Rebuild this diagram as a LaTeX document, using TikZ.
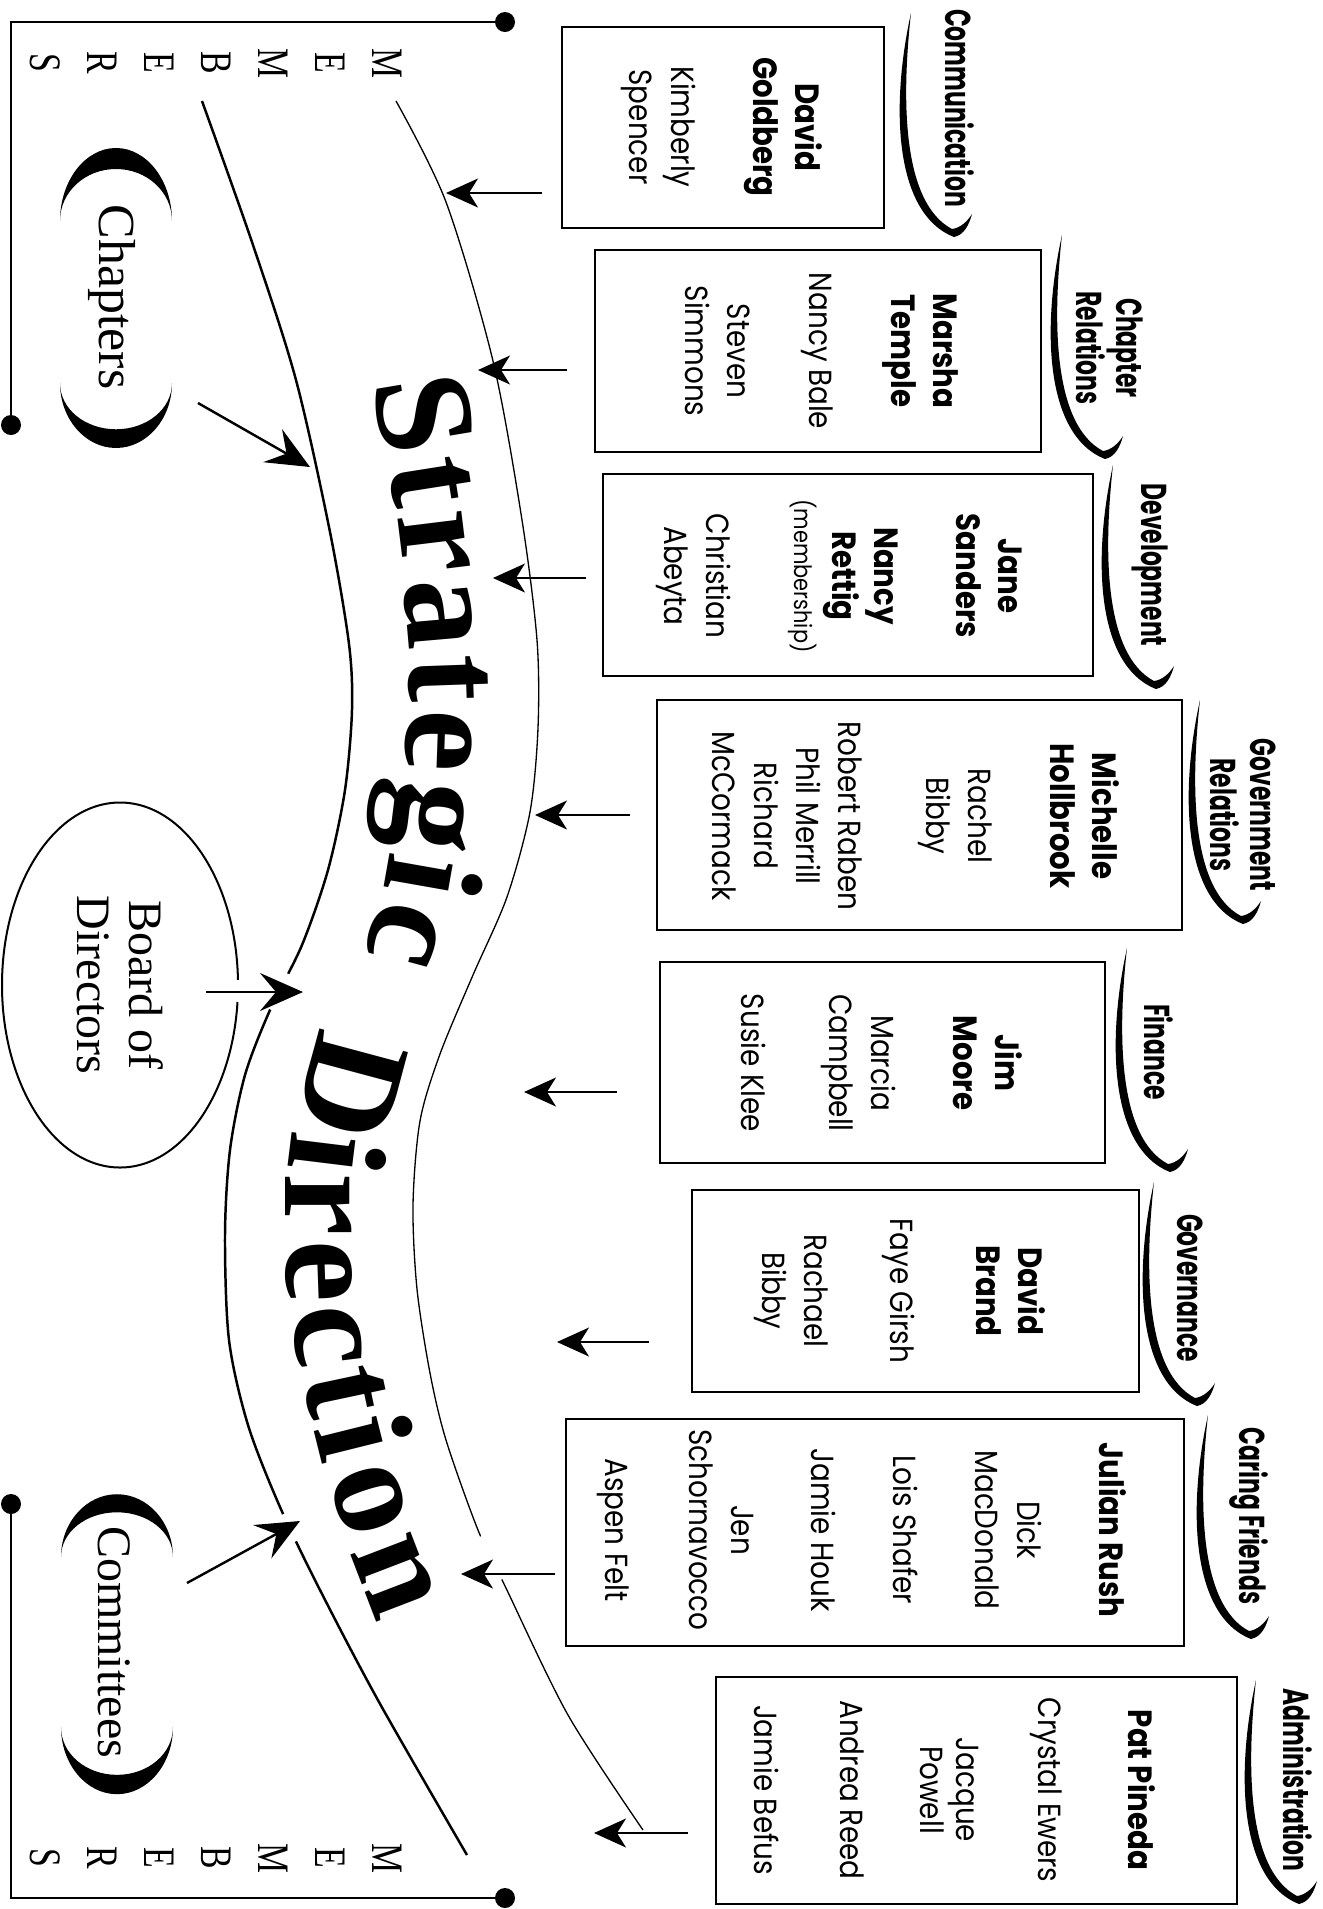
\documentclass[tikz,border=0pt]{standalone}
\usepackage{fontspec}
\setmainfont{Liberation Serif}
\newfontfamily\namefont{Poppins}[FakeStretch=0.87]
\newfontfamily\cmtefont{Poppins}[FakeStretch=0.65]
\newfontfamily\condserif{Liberation Serif}[FakeStretch=0.75]
\usetikzlibrary{arrows.meta,shapes.geometric}

\newcommand{\lead}[1]{{\bfseries\fontsize{8.4}{10.5}\selectfont #1}}
\newcommand{\swoosh}[1]{\fill[shift={#1}] (0,0) .. controls (-20,90) and (-18,200) .. (43,224)
  .. controls (53,222) and (58,212) .. (61,201) .. controls (56,209) and (49,215) .. (41,216)
  .. controls (-8,190) and (-10,90) .. (0,0) -- cycle;}
\newcommand{\crescent}[2]{\fill[shift={#1}, yscale=#2] (-56,0) .. controls (-56,-40) and (-31,-73) .. (0,-73)
  .. controls (31,-73) and (56,-40) .. (56,0) .. controls (56,-29) and (31,-52) .. (0,-52)
  .. controls (-31,-52) and (-56,-29) .. (-56,0) -- cycle;}

\begin{document}
\begin{tikzpicture}[x=0.25pt,y=-0.25pt,
  box/.style={draw, line width=0.6pt, inner sep=0pt},
  names/.style={rotate=-90, align=center, inner sep=0pt, font=\namefont\fontsize{8}{10.5}\selectfont},
  cmte/.style={rotate=-90, align=center, inner sep=0pt, font=\cmtefont\bfseries\fontsize{9}{10}\selectfont},
  member/.style={rotate=-90, inner sep=0pt, font=\condserif\fontsize{11.25}{11.25}\selectfont},
  grouptext/.style={rotate=-90, align=center, inner sep=0pt, font=\fontsize{12}{13}\selectfont},
  bigword/.style={anchor=base, inner sep=0pt, text height=20pt, text depth=0pt,
    font=\bfseries\fontsize{35}{35}\selectfont},
  arr/.style={line width=0.375pt, -{Stealth[length=8pt,width=7.25pt,inset=2.25pt]}},
  bigarr/.style={line width=0.6pt, -{Stealth[length=10.75pt,width=9.5pt,inset=4pt]}}]

\useasboundingbox (0,0) rectangle (1323,1909);

% members brackets
\draw[line width=0.6pt] (505,22) -- (11,22) -- (11,425);
\draw[line width=0.6pt] (11,1504) -- (11,1898) -- (505,1898);
\foreach \p in {(505,22),(11,425),(11,1504),(505,1898)} \fill \p circle[radius=10];
\foreach \ch [count=\i] in {M,E,M,B,E,R,S} {
  \node[member] (mtop\i) at (444-57*\i,63) {\ch};
  \node[member] (mbot\i) at (444-57*\i,1858) {\ch};
}

% the two bands
\draw[line width=0.62pt] plot[smooth] coordinates {(202,101) (253,245) (296,380) (330,532) (349,644)
  (352,710) (345,790) (328,870) (302,945) (270,1010) (245,1075) (230,1150) (225,1235) (229,1340)
  (248,1425) (280,1507) (320,1590) (379,1702) (467,1855)};
\draw[line width=0.33pt] plot[smooth] coordinates {(396,101) (446,202) (493,361) (522,520) (537,640)
  (538,728) (530,812) (507,897) (473,975) (440,1054) (420,1121) (413,1205) (417,1289) (430,1373)
  (446,1440) (478,1530) (505,1586) (568,1715) (643,1830)};

% strategic direction, letter by letter along the band
\foreach \ch/\xx/\yy/\aa [count=\i] in {S/379/421/-80.5, t/392/488/-81, r/401/546/-83,
    a/407/616/-85, t/409/680/-88, e/406/740/-92, g/398/812/-97, i/387/870/-100, c/372/925/-105}
  \node[bigword, rotate=\aa] (strat\i) at (\xx,\yy) {\ch};
\foreach \ch/\xx/\yy/\aa [count=\i] in {D/307/1075/-105, i/290/1149/-97, r/285/1205/-90,
    e/287/1273/-88, c/295/1340/-83, t/307/1399/-78, i/318/1447/-76, o/338/1510/-72, n/363/1588/-69}
  \node[bigword, rotate=\aa] (dir\i) at (\xx,\yy) {\ch};

% left side groups
\node[grouptext, font=\fontsize{13}{14}\selectfont] (chapters) at (112,297) {Chapters};
\crescent{(116,221)}{1}
\crescent{(116,383)}{-0.89}
\node[grouptext] (committees) at (114,1642) {Committees};
\crescent{(117,1557)}{0.86}
\crescent{(117,1727)}{-0.92}
\node[grouptext, draw, ellipse, line width=0.5pt, minimum width=91.25pt, minimum height=59pt]
  (board) at (120,985) {Board of\\Directors};

% gaps where arrows cross
\fill[white] (280,992) circle[radius=20];
\fill[white] (238,991) circle[radius=11];
\fill[white] (289,1528) circle[radius=15];
\fill[white] (491,1558) circle[radius=24];

\coordinate (chaptip) at (310,467);
\coordinate (boardtip) at (303,992);
\coordinate (cmtstip) at (300,1521);
\draw[bigarr] ([shift={(86,106)}]chapters.center) -- (chaptip);
\draw[bigarr] ([shift={(86,7)}]board.center) -- (boardtip);
\draw[bigarr] ([shift={(73,-59)}]committees.center) -- (cmtstip);

% committee boxes
\foreach \nm/\cx/\cy/\w/\h in {comm/723/127.5/322/201, chaprel/818/351/446/202,
    devel/848/575/490/202, govrel/919.5/815/525/230, fin/882.5/1062.5/445/201,
    gov/915.5/1291/447/202, caring/875/1532.5/618/227, admin/976.5/1790.5/521/227}
  \node[box, minimum width=\w*0.25pt, minimum height=\h*0.25pt] (\nm) at (\cx,\cy) {};

\node[names] (commnames) at (722,127) {\lead{David}\\\lead{Goldberg}\\[10pt]Kimberly\\Spencer};
\node[names] (chaprelnames) at (822,351) {\lead{Marsha}\\\lead{Temple}\\[10pt]Nancy Bale\\[10pt]Steven\\Simmons};
\node[names] (develnames) at (839,576) {\lead{Jane}\\\lead{Sanders}\\[10pt]\lead{Nancy}\\\lead{Rettig}\\[-1pt]{\fontsize{6}{7}\selectfont(membership)}\\[11.5pt]Christian\\Abeyta};
\node[names] (govrelnames) at (916,816) {\lead{Michelle}\\\lead{Hollbrook}\\[10pt]Rachel\\Bibby\\[11.5pt]Robert Raben\\Phil Merrill\\Richard\\McCormack};
\node[names] (finnames) at (882,1063) {\lead{Jim}\\\lead{Moore}\\[10pt]Marcia\\Campbell\\[11.5pt]Susie Klee};
\node[names] (govnames) at (900,1291) {\lead{David}\\\lead{Brand}\\[11pt]Faye Girsh\\[11pt]Rachael\\Bibby};
\node[names] (caringnames) at (862,1530) {\lead{Julian Rush}\\[10pt]Dick\\MacDonald\\[10pt]Lois Shafer\\[10pt]Jamie Houk\\[9.5pt]Jen\\Schornavocco\\[10.5pt]Aspen Felt};
\node[names] (adminnames) at (955,1790) {\lead{Pat Pineda}\\[12pt]Crystal Ewers\\[10pt]Jacque\\[-1.5pt]Powell\\[9.5pt]Andrea Reed\\[11pt]Jamie Befus};

% committee titles
\node[cmte] (commlabel) at (960,108) {Communication};
\node[cmte] (chaprellabel) at (1110,348) {Chapter\\Relations};
\node[cmte] (devellabel) at (1150,565) {Development};
\node[cmte] (govrellabel) at (1243,815) {Government\\Relations};
\node[cmte] (finlabel) at (1159,1052) {Finance};
\node[cmte] (govlabel) at (1190,1288) {Governance};
\node[cmte] (caringlabel) at (1249,1516) {Caring Friends};
\node[cmte] (adminlabel) at (1298,1780) {Administration};
\foreach \p in {(911,13),(1062,235),(1113,465),(1200,700),(1127,948),(1154,1182),(1208,1415),(1256,1680)}
  {\swoosh{\p}}

% arrows into the band
\coordinate (commtip) at (446,193);
\coordinate (chapreltip) at (478,370);
\coordinate (develtip) at (493,578);
\coordinate (govreltip) at (535,815);
\coordinate (fintip) at (524,1092);
\coordinate (govtip) at (557,1342);
\coordinate (caringtip) at (461,1574);
\coordinate (admintip) at (594,1833);
\foreach \nm/\gp in {comm/19, chaprel/27, devel/16, govrel/26, fin/42, gov/42, caring/10, admin/27}
  \draw[arr, shorten <=\gp*0.25pt] (\nm tip -| \nm.west) -- (\nm tip);
\end{tikzpicture}
\end{document}
